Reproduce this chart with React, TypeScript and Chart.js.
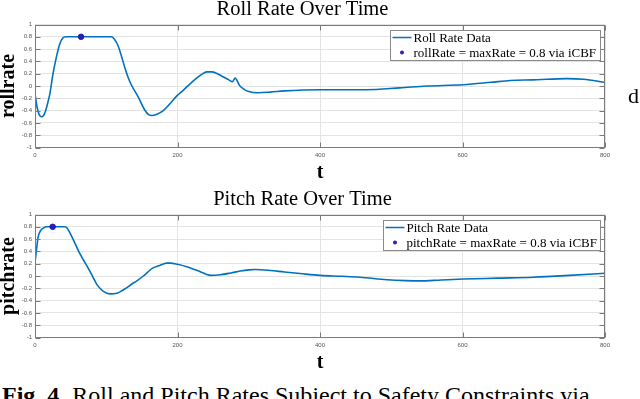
import React, { useEffect, useRef } from "react";
import { Chart, registerables } from "chart.js";

Chart.register(...registerables);

// ---- data ----
const rollT = [0, 3, 6, 9, 12, 15, 18, 21, 25, 30, 35, 39, 43, 107, 111, 116, 121, 126, 131, 136, 145, 154, 160, 164, 171, 180, 190, 199, 208, 218, 226, 234, 241, 248, 256, 264, 272, 277, 281, 283, 287, 293, 300, 313, 330, 350, 400, 465, 512, 550, 601, 640, 667, 700, 746, 770, 800];
const rollRate = [-0.13, -0.35, -0.47, -0.5, -0.48, -0.4, -0.27, -0.12, 0.18, 0.47, 0.69, 0.78, 0.8, 0.8, 0.77, 0.67, 0.5, 0.3, 0.13, 0.0, -0.18, -0.39, -0.47, -0.48, -0.46, -0.4, -0.28, -0.16, -0.07, 0.04, 0.12, 0.19, 0.23, 0.23, 0.2, 0.15, 0.1, 0.07, 0.13, 0.1, 0.01, -0.05, -0.09, -0.11, -0.1, -0.08, -0.06, -0.06, -0.03, 0.0, 0.02, 0.06, 0.09, 0.1, 0.12, 0.11, 0.06];
const rollMarkT = [64.6];
const rollMarkV = [0.8];

const pitchT = [0, 2, 4.5, 8, 12, 16, 42, 45, 49, 55, 61, 68, 75, 81, 87, 96, 105, 115, 122, 129, 136, 143, 152, 158, 164, 175, 185, 190, 200, 213, 225, 232, 240, 246, 260, 275, 288, 300, 309, 330, 350, 372, 400, 430, 456, 494, 520, 540, 570, 601, 650, 699, 750, 800];
const pitchRate = [0.22, 0.42, 0.64, 0.74, 0.78, 0.8, 0.8, 0.78, 0.7, 0.56, 0.41, 0.26, 0.12, -0.01, -0.14, -0.25, -0.29, -0.28, -0.24, -0.19, -0.13, -0.08, 0.0, 0.06, 0.12, 0.17, 0.21, 0.21, 0.19, 0.15, 0.1, 0.07, 0.03, 0.01, 0.02, 0.05, 0.08, 0.1, 0.105, 0.09, 0.065, 0.04, 0.01, -0.005, -0.02, -0.06, -0.075, -0.08, -0.065, -0.05, -0.035, -0.02, 0.01, 0.045];
const pitchMarkT = [24.8];
const pitchMarkV = [0.8];

const xTickStep = 200;
const yTickStep = 0.2;

const LINE_COLOR = "#0072BD";
const MARK_COLOR = "#2a1fc4";
const SERIF = '"Liberation Serif", "Times New Roman", serif';
const SANS = '"Liberation Sans", Arial, sans-serif';

const framePlugin = {
  id: "frame",
  afterDatasetsDraw(chart: any) {
    const { ctx, chartArea } = chart;
    const l = Math.round(chartArea.left) + 0.5;
    const r = Math.round(chartArea.right) - 0.5;
    const t = Math.round(chartArea.top) + 0.5;
    const b = Math.round(chartArea.bottom) - 0.5;
    ctx.save();
    ctx.strokeStyle = "#7a7a7a";
    ctx.lineWidth = 1;
    ctx.strokeRect(l, t, r - l, b - t);
    const ys = chart.scales.y;
    const xs = chart.scales.x;
    ctx.beginPath();
    ys.ticks.forEach((tk: any) => {
      const py = Math.round(ys.getPixelForValue(tk.value)) + 0.5;
      ctx.moveTo(l, py); ctx.lineTo(l + 5, py);
      ctx.moveTo(r, py); ctx.lineTo(r - 5, py);
    });
    xs.ticks.forEach((tk: any) => {
      const px = Math.round(xs.getPixelForValue(tk.value)) + 0.5;
      ctx.moveTo(px, b); ctx.lineTo(px, b - 5);
      ctx.moveTo(px, t); ctx.lineTo(px, t + 5);
    });
    ctx.stroke();
    ctx.restore();
  },
};

const legendPlugin = {
  id: "boxLegend",
  afterDraw(chart: any) {
    const { ctx, chartArea } = chart;
    const dsets = chart.data.datasets;
    ctx.save();
    ctx.font = `13px ${SERIF}`;
    const textW = Math.max(...dsets.map((d: any) => ctx.measureText(d.label).width));
    const w = Math.round(23 + textW + 4);
    const h = 30;
    const right = Math.round(chartArea.right) - 5;
    const left = right - w + 0.5;
    const top = Math.round(chartArea.top) + 5 + 0.5;
    ctx.fillStyle = "#ffffff";
    ctx.fillRect(left, top, w, h);
    ctx.strokeStyle = "#8a8a8a";
    ctx.lineWidth = 1;
    ctx.strokeRect(left, top, w, h);
    ctx.textBaseline = "middle";
    ctx.textAlign = "left";
    dsets.forEach((d: any, i: number) => {
      const cy = top + 7 + i * 15;
      if (d.showLine !== false) {
        ctx.strokeStyle = d.borderColor;
        ctx.lineWidth = 1.5;
        ctx.beginPath();
        ctx.moveTo(left + 2, cy);
        ctx.lineTo(left + 21, cy);
        ctx.stroke();
      } else {
        ctx.fillStyle = d.backgroundColor;
        ctx.beginPath();
        ctx.arc(left + 11.5, cy, 2, 0, Math.PI * 2);
        ctx.fill();
      }
      ctx.fillStyle = "#000";
      ctx.fillText(d.label, left + 23, cy + 1);
    });
    ctx.restore();
  },
};

function makeConfig(title: string, yTitle: string, t: number[], v: number[], mt: number[], mv: number[], lineLabel: string, markLabel: string): any {
  return {
    type: "line",
    data: {
      datasets: [
        {
          label: lineLabel,
          data: t.map((x, i) => ({ x, y: v[i] })),
          borderColor: LINE_COLOR,
          backgroundColor: LINE_COLOR,
          borderWidth: 1.6,
          pointRadius: 0,
          cubicInterpolationMode: "monotone",
          order: 1,
        },
        {
          label: markLabel,
          data: mt.map((x, i) => ({ x, y: mv[i] })),
          showLine: false,
          borderColor: "#1a1090",
          backgroundColor: MARK_COLOR,
          pointRadius: 2.8,
          pointBorderWidth: 0.8,
          order: 0,
        },
      ],
    },
    options: {
      responsive: false,
      animation: false,
      events: [],
      layout: { padding: { left: 0, right: 35, top: 0, bottom: 0 } },
      plugins: {
        legend: { display: false },
        tooltip: { enabled: false },
        title: {
          display: true,
          text: title,
          color: "#000",
          font: { family: SERIF, size: 20.5, weight: "normal", lineHeight: 1 },
          padding: { top: 0, bottom: 5 },
        },
      },
      scales: {
        x: {
          type: "linear",
          min: 0,
          max: 800,
          grid: { color: "#e3e3e3", drawTicks: false, lineWidth: 1 },
          border: { display: false },
          ticks: {
            stepSize: xTickStep,
            padding: 4.5,
            color: "#555",
            font: { family: SANS, size: 6, lineHeight: 1.25 },
            maxRotation: 0,
          },
          title: {
            display: true,
            text: "t",
            color: "#000",
            font: { family: SERIF, size: 20, weight: "bold", lineHeight: 0.9 },
            padding: 0,
          },
        },
        y: {
          min: -1,
          max: 1,
          grid: { color: "#e3e3e3", drawTicks: false, lineWidth: 1 },
          border: { display: false },
          afterFit: (scale: any) => { scale.width = 35; },
          ticks: {
            stepSize: yTickStep,
            padding: 3,
            color: "#555",
            font: { family: SANS, size: 6, lineHeight: 1.2 },
            callback: (val: any) => String(+(+val).toFixed(1)),
          },
          title: {
            display: true,
            text: yTitle,
            color: "#000",
            font: { family: SERIF, size: 20, weight: "bold", lineHeight: 1 },
            padding: { top: -1, bottom: 0 },
          },
        },
      },
    },
    plugins: [framePlugin, legendPlugin],
  };
}

function ChartCanvas({ config, top }: { config: any; top: number }) {
  const ref = useRef<HTMLCanvasElement | null>(null);
  useEffect(() => {
    if (!ref.current) return;
    const chart = new Chart(ref.current, config);
    return () => chart.destroy();
  }, [config]);
  return (
    <div style={{ position: "absolute", left: 0, top, width: 640, height: 183 }}>
      <canvas ref={ref} width={640} height={183} style={{ display: "block", width: 640, height: 183 }} />
    </div>
  );
}

const rollConfig = makeConfig("Roll Rate Over Time", "rollrate", rollT, rollRate, rollMarkT, rollMarkV, "Roll Rate Data", "rollRate = maxRate = 0.8 via iCBF");
const pitchConfig = makeConfig("Pitch Rate Over Time", "pitchrate", pitchT, pitchRate, pitchMarkT, pitchMarkV, "Pitch Rate Data", "pitchRate = maxRate = 0.8 via iCBF");

export default function App() {
  return (
    <div style={{ position: "fixed", left: 0, top: 0, width: 640, height: 399, overflow: "hidden", background: "#fff" }}>
      <ChartCanvas config={rollConfig} top={-1} />
      <ChartCanvas config={pitchConfig} top={189} />
      <div style={{ position: "absolute", left: 628, top: 85, fontFamily: SERIF, fontSize: 22, lineHeight: "22px", color: "#000", whiteSpace: "nowrap" }}>d</div>
      <div style={{ position: "absolute", left: 2, top: 383, fontFamily: SERIF, fontSize: 24, lineHeight: "24px", color: "#000", whiteSpace: "nowrap" }}>
        <b>Fig. 4.</b>
        <span style={{ marginLeft: 7 }}>Roll and Pitch Rates Subject to Safety Constraints via</span>
      </div>
    </div>
  );
}
